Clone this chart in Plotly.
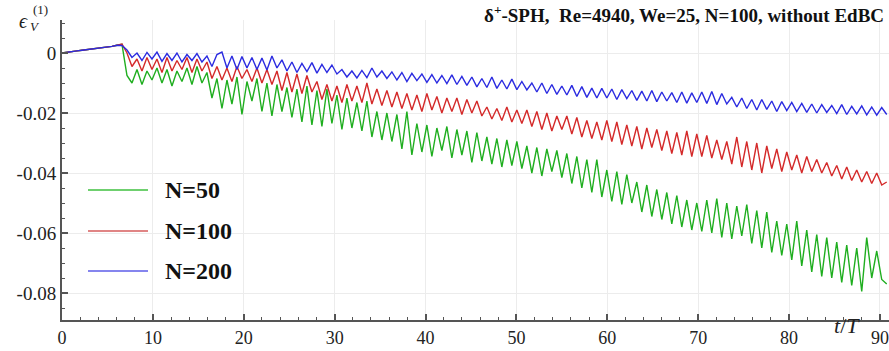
import numpy as np
import plotly.graph_objects as go

# sampling interval of the stored time histories (t/T)
DT = 0.55

# common start-up part of the three runs (t/T = 0 ... 6.6)
startup = [0.0000, 0.0003, 0.0005, 0.0007, 0.0009, 0.0011, 0.0013,
           0.0015, 0.0017, 0.0019, 0.0022, 0.0026, 0.0029]

eps_n50 = startup + [
    -0.0075, -0.0100, -0.0055, -0.0105, -0.0060, -0.0090, -0.0050, -0.0100, -0.0055,
    -0.0110, -0.0060, -0.0095, -0.0050, -0.0105, -0.0045, -0.0100, -0.0065,
    -0.0150, -0.0085, -0.0185, -0.0090, -0.0170, -0.0080, -0.0205, -0.0095, -0.0160,
    -0.0085, -0.0195, -0.0100, -0.0210, -0.0105,
    -0.0195, -0.0115, -0.0215, -0.0120, -0.0230, -0.0110, -0.0240, -0.0125, -0.0245,
    -0.0120, -0.0235, -0.0140,
    -0.0255, -0.0150, -0.0250, -0.0165, -0.0260, -0.0160,
    -0.0280, -0.0195, -0.0290, -0.0200, -0.0295, -0.0205, -0.0320, -0.0195, -0.0340,
    -0.0235, -0.0330, -0.0240, -0.0345, -0.0250, -0.0325, -0.0245, -0.0350, -0.0255,
    -0.0340, -0.0260, -0.0365, -0.0265, -0.0360,
    -0.0280, -0.0370, -0.0285, -0.0380, -0.0290, -0.0375, -0.0295, -0.0385,
    -0.0310, -0.0400, -0.0315, -0.0410, -0.0320, -0.0395, -0.0325, -0.0415,
    -0.0335, -0.0435, -0.0345, -0.0450, -0.0355, -0.0465, -0.0355,
    -0.0480, -0.0390, -0.0495, -0.0395, -0.0505, -0.0405, -0.0500,
    -0.0430, -0.0530, -0.0440, -0.0545, -0.0455, -0.0555, -0.0465,
    -0.0570, -0.0475, -0.0580, -0.0490, -0.0590, -0.0500,
    -0.0595, -0.0490, -0.0600, -0.0485, -0.0615, -0.0500, -0.0620, -0.0510, -0.0610,
    -0.0505,
    -0.0635, -0.0525, -0.0650, -0.0530, -0.0665, -0.0560, -0.0675, -0.0570,
    -0.0690, -0.0560, -0.0710, -0.0590, -0.0730, -0.0605, -0.0745, -0.0615,
    -0.0750, -0.0630, -0.0765, -0.0640, -0.0775, -0.0650, -0.0795,
    -0.0615, -0.0750, -0.0660, -0.0755, -0.0770,
]

eps_n100 = startup[:-1] + [0.0030] + [
    0.0000, -0.0045, -0.0020, -0.0060, -0.0015, -0.0055, -0.0020, -0.0065, -0.0015,
    -0.0060, -0.0025, -0.0055, -0.0015, -0.0065, -0.0020, -0.0060, -0.0030,
    -0.0085, -0.0045, -0.0090, -0.0050, -0.0095, -0.0045, -0.0085, -0.0055, -0.0095,
    -0.0050, -0.0100, -0.0055, -0.0105, -0.0060,
    -0.0125, -0.0065, -0.0130, -0.0070, -0.0135, -0.0075, -0.0130,
    -0.0095, -0.0155, -0.0105, -0.0160, -0.0110, -0.0165, -0.0105, -0.0160,
    -0.0110, -0.0165, -0.0100, -0.0170, -0.0120, -0.0175, -0.0125, -0.0180, -0.0130,
    -0.0185, -0.0135, -0.0190, -0.0140, -0.0195, -0.0135, -0.0190, -0.0145, -0.0200,
    -0.0150, -0.0195, -0.0150, -0.0205, -0.0155, -0.0200, -0.0160, -0.0210,
    -0.0180, -0.0220, -0.0185, -0.0225, -0.0180, -0.0230, -0.0190, -0.0235,
    -0.0190, -0.0245, -0.0195, -0.0255, -0.0200, -0.0260, -0.0210, -0.0255,
    -0.0210, -0.0270, -0.0215, -0.0280, -0.0225, -0.0285, -0.0230,
    -0.0290, -0.0225, -0.0295, -0.0230, -0.0305, -0.0240, -0.0310, -0.0245, -0.0320,
    -0.0250, -0.0315, -0.0255, -0.0325, -0.0260, -0.0335, -0.0265, -0.0340, -0.0260,
    -0.0345, -0.0270,
    -0.0345, -0.0275, -0.0350, -0.0290, -0.0355, -0.0295,
    -0.0370, -0.0280, -0.0380, -0.0295, -0.0390, -0.0300, -0.0400, -0.0310,
    -0.0385, -0.0320, -0.0395, -0.0330, -0.0390, -0.0340, -0.0400, -0.0345, -0.0395,
    -0.0355, -0.0400,
    -0.0365, -0.0410, -0.0375, -0.0420, -0.0380, -0.0425, -0.0390, -0.0430, -0.0395,
    -0.0435, -0.0400, -0.0440, -0.0430,
]

eps_n200 = startup[:-1] + [0.0025] + [
    0.0010, -0.0015, 0.0000, -0.0025, 0.0002, -0.0020, 0.0003, -0.0028, -0.0002,
    -0.0025, 0.0000, -0.0030, -0.0005, -0.0025, -0.0002, -0.0030, -0.0010,
    -0.0045, -0.0005, 0.0003, -0.0050, -0.0010, -0.0055, -0.0012, -0.0050, -0.0015,
    -0.0055, -0.0017, -0.0057, -0.0010, -0.0050,
    -0.0023, -0.0060, -0.0030, -0.0065, -0.0035, -0.0062, -0.0032, -0.0067, -0.0038,
    -0.0065, -0.0040, -0.0070,
    -0.0055, -0.0080, -0.0060, -0.0083, -0.0058, -0.0082, -0.0050, -0.0080, -0.0060,
    -0.0085,
    -0.0063, -0.0090, -0.0065, -0.0095, -0.0068, -0.0092, -0.0070, -0.0098, -0.0072,
    -0.0100, -0.0075, -0.0102, -0.0073, -0.0105, -0.0078, -0.0108, -0.0080, -0.0113,
    -0.0085,
    -0.0115, -0.0080, -0.0118, -0.0090, -0.0120, -0.0087, -0.0122, -0.0095, -0.0123,
    -0.0100,
    -0.0130, -0.0100, -0.0135, -0.0105, -0.0138, -0.0110, -0.0140, -0.0108, -0.0145,
    -0.0112, -0.0148, -0.0117, -0.0150,
    -0.0118, -0.0150, -0.0120, -0.0155, -0.0122, -0.0152, -0.0125, -0.0158, -0.0127,
    -0.0160, -0.0125, -0.0162, -0.0130, -0.0160, -0.0132, -0.0165, -0.0130, -0.0167,
    -0.0133, -0.0165,
    -0.0130, -0.0168, -0.0128, -0.0172, -0.0135, -0.0170,
    -0.0148, -0.0180, -0.0150, -0.0185, -0.0155, -0.0190, -0.0155, -0.0188, -0.0160,
    -0.0195, -0.0162, -0.0192,
    -0.0165, -0.0195, -0.0168, -0.0198, -0.0170, -0.0200, -0.0172, -0.0198, -0.0175,
    -0.0202, -0.0172, -0.0205, -0.0178, -0.0203, -0.0176, -0.0206, -0.0180, -0.0207,
    -0.0182, -0.0205,
]

series_names = ["N=50", "N=100", "N=200"]
series_values = [eps_n50, eps_n100, eps_n200]
series_colors = ["#1fae1f", "#d42a2a", "#2b2be0"]
legend_colors = ["#6fd06f", "#e08585", "#8585ee"]

x_ticks = [0, 10, 20, 30, 40, 50, 60, 70, 80, 90]
y_ticks = [0, -0.02, -0.04, -0.06, -0.08]
y_tick_text = ["0", "-0.02", "-0.04", "-0.06", "-0.08"]

SERIF = "Liberation Serif"
AXIS_COLOR = "#555555"

fig = go.Figure()
for name, vals, col in zip(series_names, series_values, series_colors):
    t = np.round(DT * np.arange(len(vals)), 3)
    fig.add_trace(go.Scatter(x=t, y=vals, mode="lines", name=name,
                             line=dict(color=col, width=1.4), showlegend=False))

fig.update_layout(
    width=889, height=351,
    margin=dict(l=62, r=0, t=20, b=31),
    paper_bgcolor="white", plot_bgcolor="white",
    font=dict(family=SERIF, size=15, color="#222222"),
)
fig.update_xaxes(
    range=[0, 91], tickmode="array", tickvals=x_ticks,
    ticktext=[str(v) for v in x_ticks],
    ticks="inside", ticklen=6, tickwidth=1.5, tickcolor=AXIS_COLOR,
    minor=dict(tickmode="linear", tick0=0, dtick=2, ticks="inside",
               ticklen=3, tickwidth=1, tickcolor=AXIS_COLOR, showgrid=False),
    showline=True, linewidth=2, linecolor=AXIS_COLOR,
    showgrid=True, gridcolor="#ececec", gridwidth=1, zeroline=False,
    tickfont=dict(family=SERIF, size=18, color="#222222"),
)
fig.update_yaxes(
    range=[-0.089, 0.011], tickmode="array", tickvals=y_ticks, ticktext=y_tick_text,
    ticks="inside", ticklen=6, tickwidth=1.5, tickcolor=AXIS_COLOR,
    minor=dict(tickmode="linear", tick0=0, dtick=0.005, ticks="inside",
               ticklen=3, tickwidth=1, tickcolor=AXIS_COLOR, showgrid=False),
    showline=True, linewidth=2, linecolor=AXIS_COLOR,
    showgrid=True, gridcolor="#ececec", gridwidth=1, zeroline=False,
    tickfont=dict(family=SERIF, size=19, color="#222222"),
)

# legend drawn as line samples with bold labels
legend_y = [190, 231, 271]
H_PLOT = 300.0
for name, col, yp in zip(series_names, legend_colors, legend_y):
    yf = 1 - (yp - 20) / H_PLOT
    fig.add_shape(type="line", xref="paper", yref="paper",
                  x0=(88 - 62) / 827, x1=(148 - 62) / 827, y0=yf, y1=yf,
                  line=dict(color=col, width=2))
    fig.add_annotation(xref="paper", yref="paper", x=(163 - 62) / 827, y=yf,
                       text="<b>%s</b>" % name, showarrow=False,
                       xanchor="left", yanchor="middle",
                       font=dict(family=SERIF, size=24, color="#111111"))

# header text
fig.add_annotation(xref="paper", yref="paper", x=(886 - 62) / 827, y=1 - (14 - 20) / H_PLOT,
                   text="<b>δ<sup>+</sup>-SPH,  Re=4940, We=25, N=100, without EdBC</b>",
                   showarrow=False, xanchor="right", yanchor="middle",
                   font=dict(family=SERIF, size=19, color="#111111"))

# axis titles
fig.add_annotation(xref="paper", yref="paper", x=(832 - 62) / 827, y=1 - (325 - 20) / H_PLOT,
                   text="<i>t</i>/<i>T</i>", showarrow=False,
                   xanchor="left", yanchor="middle",
                   font=dict(family=SERIF, size=22, color="#222222"))
fig.add_annotation(xref="paper", yref="paper", x=(17 - 62) / 827, y=1 - (21 - 20) / H_PLOT,
                   text="<i>ϵ</i>", showarrow=False, xanchor="left", yanchor="middle",
                   font=dict(family=SERIF, size=20, color="#222222"))
fig.add_annotation(xref="paper", yref="paper", x=(28 - 62) / 827, y=1 - (27 - 20) / H_PLOT,
                   text="<i>V</i>", showarrow=False, xanchor="left", yanchor="middle",
                   font=dict(family=SERIF, size=13, color="#222222"))
fig.add_annotation(xref="paper", yref="paper", x=(31 - 62) / 827, y=1 - (9 - 20) / H_PLOT,
                   text="(1)", showarrow=False, xanchor="left", yanchor="middle",
                   font=dict(family=SERIF, size=13, color="#222222"))

fig.write_html("out.html")
